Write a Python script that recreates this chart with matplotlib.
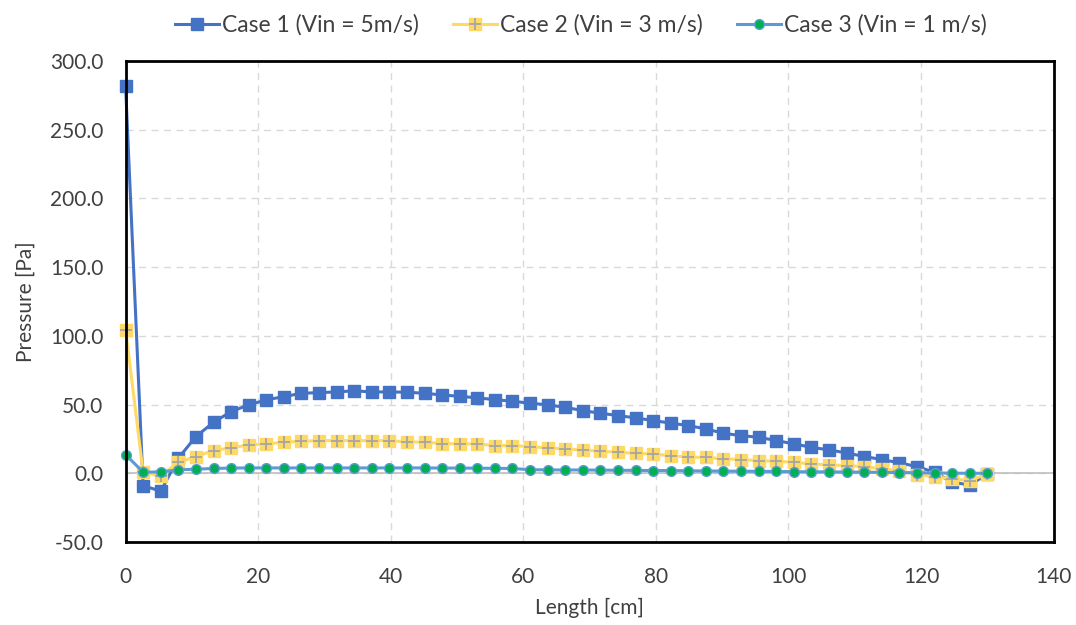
import numpy as np
import matplotlib.pyplot as plt
from matplotlib.ticker import FormatStrFormatter

plt.rcParams['font.family'] = ['Lato', 'DejaVu Sans']

# ---------------------------------------------------------------- data
length_cm = [0.00, 2.65, 5.31, 7.96, 10.61, 13.27, 15.92, 18.57, 21.22, 23.88,
             26.53, 29.18, 31.84, 34.49, 37.14, 39.80, 42.45, 45.10, 47.76, 50.41,
             53.06, 55.71, 58.37, 61.02, 63.67, 66.33, 68.98, 71.63, 74.29, 76.94,
             79.59, 82.24, 84.90, 87.55, 90.20, 92.86, 95.51, 98.16, 100.82, 103.47,
             106.12, 108.78, 111.43, 114.08, 116.73, 119.39, 122.04, 124.69, 127.35, 130.00]

case1 = [282.0, -9.0, -13.0, 11.0, 26.7, 37.1, 44.9, 49.8, 53.4, 55.8,
         58.2, 58.7, 59.2, 60.0, 59.2, 59.2, 59.0, 58.2, 57.0, 56.0,
         54.9, 53.6, 52.4, 51.0, 49.8, 48.0, 45.6, 43.7, 42.0, 40.3,
         38.4, 36.5, 34.7, 32.3, 29.1, 27.4, 26.2, 23.8, 21.4, 18.9,
         17.0, 14.8, 12.2, 10.0, 7.6, 4.9, 0.7, -6.5, -8.5, -0.5]

case2 = [104.5, 0.7, -1.8, 8.0, 12.2, 16.5, 18.5, 20.7, 21.4, 22.6,
         23.3, 23.8, 23.8, 23.8, 23.8, 23.8, 22.8, 22.6, 21.6, 21.4,
         21.4, 20.2, 20.2, 19.4, 18.5, 17.7, 17.0, 16.0, 15.3, 14.6,
         14.0, 12.9, 11.7, 11.6, 10.5, 10.0, 9.2, 8.7, 8.0, 6.8,
         6.1, 5.6, 4.9, 3.2, 2.0, -1.0, -2.4, -4.1, -5.3, -0.5]

case3 = [13.6, 0.8, 1.0, 2.5, 3.0, 3.5, 3.8, 3.9, 3.9, 3.9,
         3.9, 3.9, 3.9, 3.9, 3.9, 3.9, 3.9, 3.9, 3.8, 3.8,
         3.7, 3.6, 3.5, 2.6, 2.5, 2.4, 2.4, 2.3, 2.2, 2.1,
         2.0, 2.0, 1.8, 1.7, 1.6, 1.5, 1.4, 1.3, 1.2, 1.1,
         1.0, 0.9, 0.8, 0.7, 0.5, 0.4, 0.2, 0.1, 0.0, 0.0]

labels = ['Case 1 (Vin = 5m/s)', 'Case 2 (Vin = 3 m/s)', 'Case 3 (Vin = 1 m/s)']

# ---------------------------------------------------------------- figure
fig = plt.figure(figsize=(10.76, 6.25), dpi=100)
ax = fig.add_axes([0.1167, 0.1328, 0.8625, 0.7696])

ax.axhline(0, color='#bfbfbf', lw=1.2, zorder=1)

l1, = ax.plot(length_cm, case1, color='#4472C4', lw=2.2, marker='s', ms=8,
              markeredgecolor='#4472C4', zorder=3, clip_on=False)
l2, = ax.plot(length_cm, case2, color='#FFD966', lw=2.2, marker='s', ms=8,
              markeredgecolor='#FFD966', zorder=3, clip_on=False)
p2, = ax.plot(length_cm, case2, ls='none', marker='+', ms=8, mew=1.3,
              color='#A5A5A5', zorder=4, clip_on=False)
l3, = ax.plot(length_cm, case3, color='#5B9BD5', lw=2.2, marker='o', ms=7,
              markerfacecolor='#00B050', markeredgecolor='#5B9BD5', zorder=5,
              clip_on=False)

ax.set_xlim(0, 140)
ax.set_ylim(-50, 300)
ax.set_xticks(np.arange(0, 141, 20))
ax.set_yticks(np.arange(-50, 301, 50))
ax.yaxis.set_major_formatter(FormatStrFormatter('%.1f'))
ax.grid(True, color='#d9d9d9', ls=(0, (5, 4)), lw=1)
ax.set_axisbelow(True)
ax.tick_params(length=0, labelsize=15, labelcolor='#404040')
ax.tick_params(axis='y', pad=16)
ax.tick_params(axis='x', pad=18)
for s in ax.spines.values():
    s.set_linewidth(2)
    s.set_color('black')
    s.set_zorder(6)

ax.set_xlabel('Length [cm]', fontsize=15, color='#404040', labelpad=8)
ax.set_ylabel('Pressure [Pa]', fontsize=15, color='#404040', labelpad=10)

fig.legend([l1, (l2, p2), l3], labels, loc='upper center',
           bbox_to_anchor=(0.54, 1.01), ncol=3, frameon=False, fontsize=16.5,
           handlelength=1.9, columnspacing=1.5, handletextpad=0.15,
           labelcolor='#404040')

fig.savefig('out.png', dpi=100)
